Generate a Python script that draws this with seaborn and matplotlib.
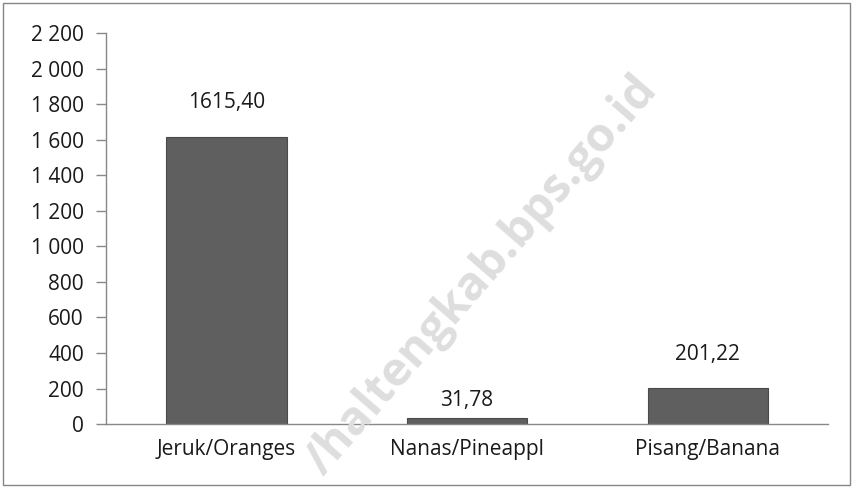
import matplotlib.pyplot as plt
import matplotlib.ticker as mticker
from matplotlib.patches import Rectangle
import pandas as pd
import seaborn as sns

sns.set_style('white')
plt.rcParams['font.family'] = ['Open Sans', 'DejaVu Sans']

# data
fruits = ['Jeruk/Oranges', 'Nanas/Pineappl', 'Pisang/Banana']
production = [1615.40, 31.78, 201.22]
value_labels = ['1615,40', '31,78', '201,22']
label_pad = [17, 5, 17]

df = pd.DataFrame({'fruit': fruits, 'production': production})

fig = plt.figure(figsize=(8.53, 4.88), dpi=100)
ax = fig.add_axes([0.1243, 0.131, 0.8464, 0.801])

sns.barplot(data=df, x='fruit', y='production', color='#5f5f5f',
            edgecolor='#4a4a4a', linewidth=0.8, width=0.5, saturation=1, ax=ax)

for i, (v, lab) in enumerate(zip(production, value_labels)):
    ax.annotate(lab, (i, v), xytext=(0, label_pad[i]), textcoords='offset points',
                ha='center', va='bottom', fontsize=15, color='#1a1a1a')

ax.set_xlim(-0.5, 2.5)
ax.set_ylim(0, 2200)
ax.yaxis.set_major_locator(mticker.MultipleLocator(200))
ax.yaxis.set_major_formatter(mticker.FuncFormatter(lambda v, p: f'{int(v):,}'.replace(',', ' ')))

ax.set_xlabel('')
ax.set_ylabel('')
ax.tick_params(axis='x', which='major', length=0, pad=11, labelsize=15, labelcolor='#1a1a1a')
ax.xaxis.set_minor_locator(mticker.FixedLocator([-0.5, 0.5, 1.5, 2.5]))
ax.tick_params(axis='x', which='minor', length=7, width=1, color='#888888', direction='out')
ax.tick_params(axis='y', length=7, width=1, color='#888888', direction='out',
               left=True, pad=9, labelsize=15, labelcolor='#1a1a1a')

for side in ['top', 'right']:
    ax.spines[side].set_visible(False)
for side in ['left', 'bottom']:
    ax.spines[side].set_color('#888888')
    ax.spines[side].set_linewidth(1)

# watermark
fig.text(0.565, 0.435, '/haltengkab.bps.go.id', fontsize=34, fontweight='bold',
         color='#dedede', rotation=49, ha='center', va='center', zorder=0)

# outer frame
fig.patches.append(Rectangle((0.004, 0.006), 0.992, 0.988, transform=fig.transFigure,
                             fill=False, edgecolor='#868686', linewidth=1))

fig.savefig('out.png', dpi=100)
